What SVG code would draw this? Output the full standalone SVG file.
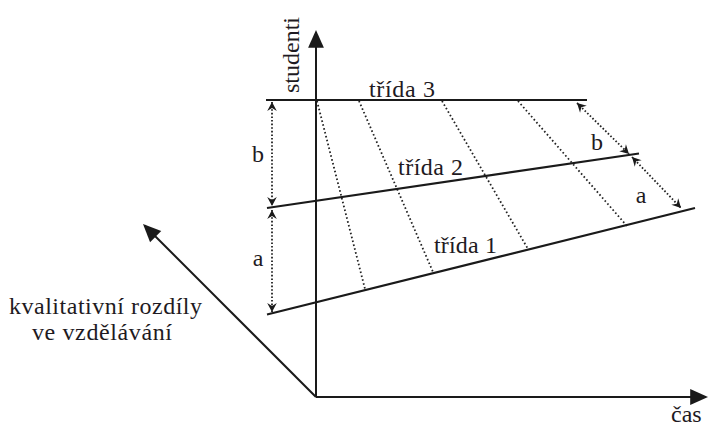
<svg xmlns="http://www.w3.org/2000/svg" width="708" height="427" viewBox="0 0 708 427">
<style>
.ax{stroke:#1a1a1a;stroke-width:2;fill:none}
.cl{stroke:#1a1a1a;stroke-width:2.2;fill:none}
.dot{stroke:#222;stroke-width:1.8;fill:none;stroke-dasharray:1.6 2.4}
.dar{stroke:#222;stroke-width:1.8;fill:none;stroke-dasharray:1.6 2}
.t{font-family:'Liberation Serif',serif;font-size:24px;fill:#1e1a22}
</style>
<defs>
<marker id="axh" markerUnits="userSpaceOnUse" markerWidth="20" markerHeight="18" viewBox="-16 -8 19 16" refX="0" refY="0" orient="auto">
<path d="M2,0 L-15,-7.5 L-15,7.5 Z" fill="#1a1a1a"/>
</marker>
<marker id="sm" markerUnits="userSpaceOnUse" markerWidth="12" markerHeight="12" viewBox="-10 -6 12 12" refX="0" refY="0" orient="auto-start-reverse">
<path d="M0,0 L-9,-4.8 L-6,0 L-9,4.8 Z" fill="#1a1a1a"/>
</marker>
</defs>
<rect width="708" height="427" fill="#fff"/>
<g id="guides">
<line class="dot" x1="317" y1="101" x2="365" y2="289"/>
<line class="dot" x1="359" y1="101" x2="433" y2="272"/>
<line class="dot" x1="442" y1="101" x2="528" y2="249"/>
<line class="dot" x1="518" y1="101" x2="627" y2="226"/>
</g>
<g id="trida3"><line class="cl" x1="266" y1="100" x2="587" y2="100"/><text class="t" x="369" y="97" textLength="66">třída 3</text></g>
<g id="trida2"><line class="cl" x1="267" y1="208" x2="639" y2="153.5"/><text class="t" x="398" y="175" textLength="65">třída 2</text></g>
<g id="trida1"><line class="cl" x1="267" y1="314.5" x2="695" y2="208"/><text class="t" x="434" y="253" textLength="63">třída 1</text></g>
<g id="connectors">
<line class="dar" x1="272" y1="102" x2="272" y2="206" marker-start="url(#sm)" marker-end="url(#sm)"/>
<line class="dar" x1="272" y1="210" x2="272" y2="312" marker-start="url(#sm)" marker-end="url(#sm)"/>
<line class="dar" x1="577" y1="103" x2="629" y2="154" marker-start="url(#sm)" marker-end="url(#sm)"/>
<line class="dar" x1="632" y1="157" x2="681" y2="208" marker-start="url(#sm)" marker-end="url(#sm)"/>
</g>
<g id="labels">
<text class="t" x="258" y="162" text-anchor="middle">b</text>
<text class="t" x="258" y="266" text-anchor="middle">a</text>
<text class="t" x="597" y="150" text-anchor="middle">b</text>
<text class="t" x="641" y="203" text-anchor="middle">a</text>
</g>
<g id="axes">
<line class="ax" x1="316" y1="397" x2="316" y2="32" marker-end="url(#axh)"/>
<line class="ax" x1="316" y1="397" x2="706" y2="397" marker-end="url(#axh)"/>
<line class="ax" x1="316" y1="397" x2="144.5" y2="225.5" marker-end="url(#axh)"/>
</g>
<g id="axis-labels">
<text class="t" transform="translate(299,93) rotate(-90)">studenti</text>
<text class="t" x="671" y="422">čas</text>
<text class="t" x="9" y="314" textLength="193">kvalitativní rozdíly</text>
<text class="t" x="32" y="340" textLength="140">ve vzdělávání</text>
</g>
</svg>
